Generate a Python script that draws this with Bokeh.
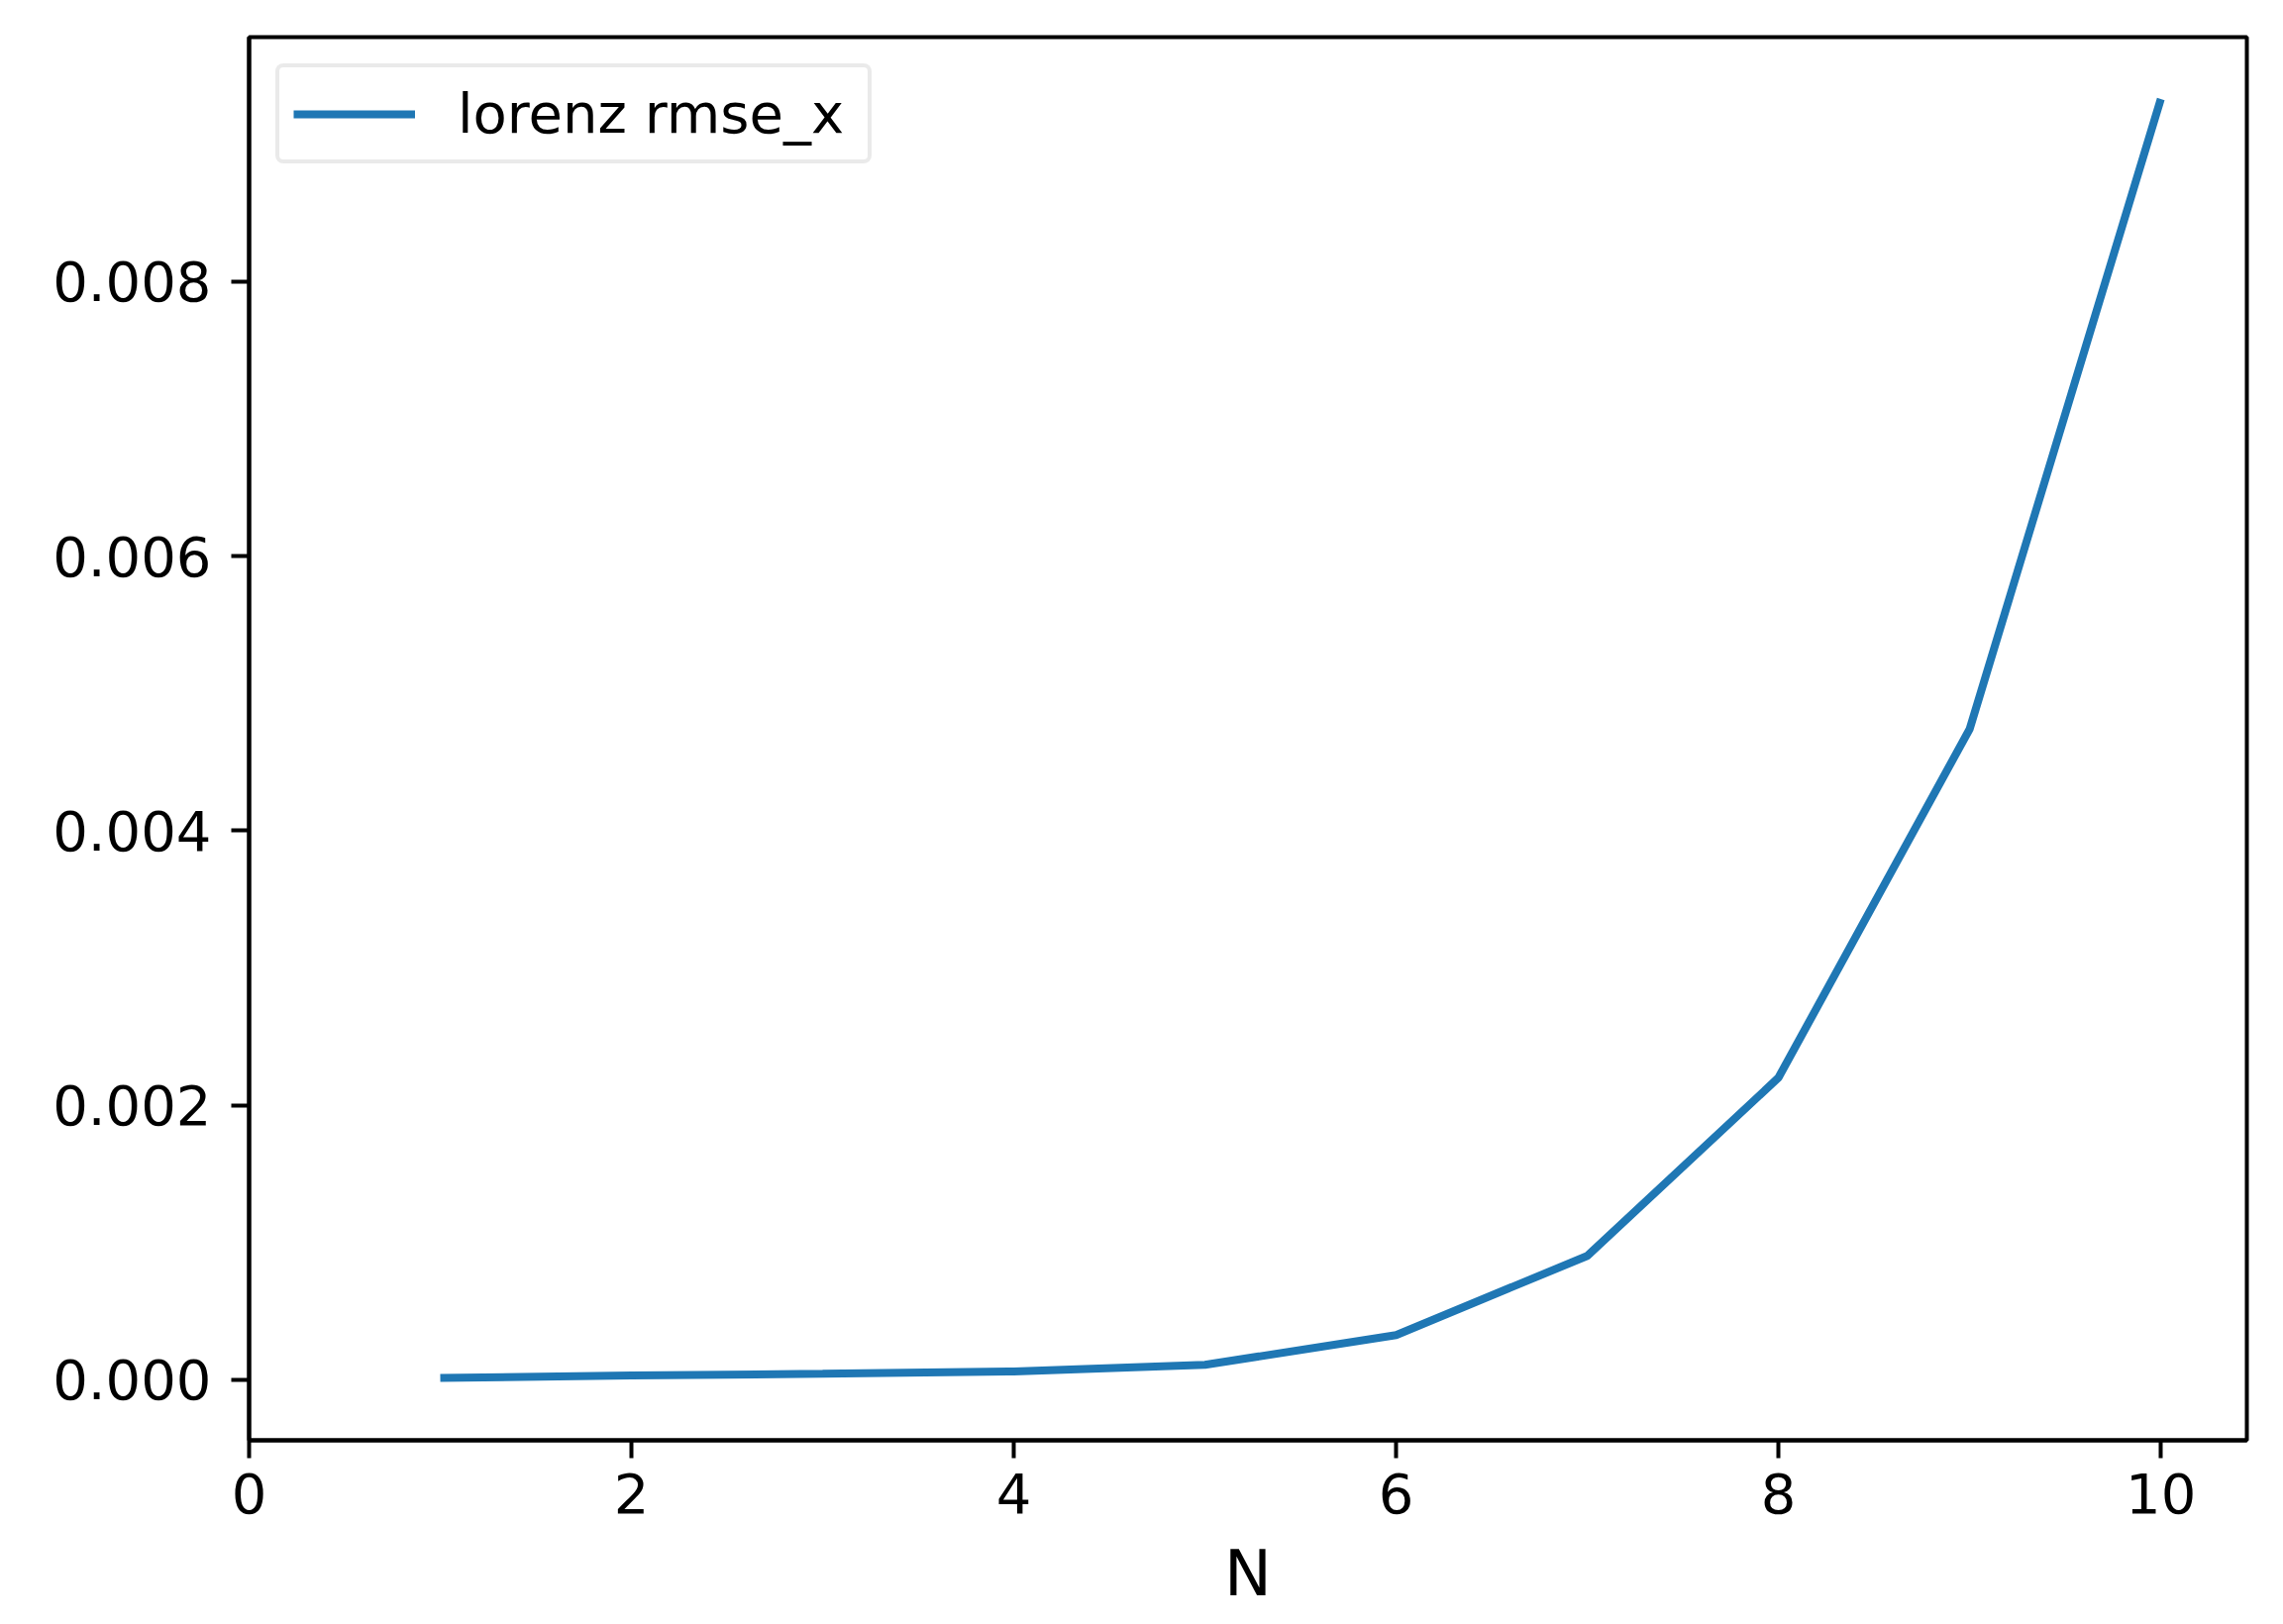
from bokeh.plotting import figure
from bokeh.models import Range1d, FixedTicker, NumeralTickFormatter, Legend, LegendItem
from bokeh.embed import file_html
from bokeh.resources import INLINE

# Data
N_values = [1, 2, 3, 4, 5, 6, 7, 8, 9, 10]
rmse_x = [0.000012, 0.00003, 0.000043, 0.00006, 0.000108, 0.000325, 0.000902, 0.0022, 0.00474, 0.00933]
x_ticks = [0, 2, 4, 6, 8, 10]
y_ticks = [0.000, 0.002, 0.004, 0.006, 0.008]
series_label = "lorenz rmse_x"
x_label = "N"

FONT = "DejaVu Sans"

p = figure(width=2305, height=1640, output_backend="svg", toolbar_location=None,
           x_range=Range1d(0, 10.45), y_range=Range1d(-0.000442, 0.009781),
           min_border_left=251, min_border_right=37, min_border_top=37, min_border_bottom=186)

p.xgrid.visible = False
p.ygrid.visible = False
p.background_fill_color = "white"
p.border_fill_color = "white"
p.outline_line_color = "black"
p.outline_line_width = 4
p.outline_line_alpha = 1.0

r = p.line(N_values, rmse_x, line_color="#1f77b4", line_width=8)

p.xaxis.ticker = FixedTicker(ticks=x_ticks, minor_ticks=[])
p.yaxis.ticker = FixedTicker(ticks=y_ticks, minor_ticks=[])
p.yaxis.formatter = NumeralTickFormatter(format="0.000")

for ax in (p.xaxis, p.yaxis):
    ax.major_label_text_font = FONT
    ax.major_label_text_font_size = "56px"
    ax.major_label_text_color = "black"
    ax.axis_line_color = "black"
    ax.axis_line_width = 4
    ax.major_tick_line_color = "black"
    ax.major_tick_line_width = 4
    ax.major_tick_out = 18
    ax.major_tick_in = 0
    ax.minor_tick_out = 0
    ax.minor_tick_in = 0

p.xaxis.major_label_standoff = 15
p.yaxis.major_label_standoff = 20

p.xaxis.axis_label = x_label
p.xaxis.axis_label_text_font = FONT
p.xaxis.axis_label_text_font_size = "64px"
p.xaxis.axis_label_text_font_style = "normal"
p.xaxis.axis_label_text_color = "black"
p.xaxis.axis_label_standoff = 21

legend = Legend(items=[LegendItem(label=series_label, renderers=[r])], location="top_left")
legend.margin = 27
legend.padding = 14
legend.glyph_width = 123
legend.glyph_height = 50
legend.label_standoff = 43
legend.label_width = 400
legend.label_text_font = FONT
legend.label_text_font_size = "56px"
legend.label_text_color = "black"
legend.border_line_color = "#d6d6d6"
legend.border_line_width = 4
legend.border_radius = 8
legend.background_fill_alpha = 0.8
p.add_layout(legend)

open("out.html", "w").write(file_html(p, INLINE))
